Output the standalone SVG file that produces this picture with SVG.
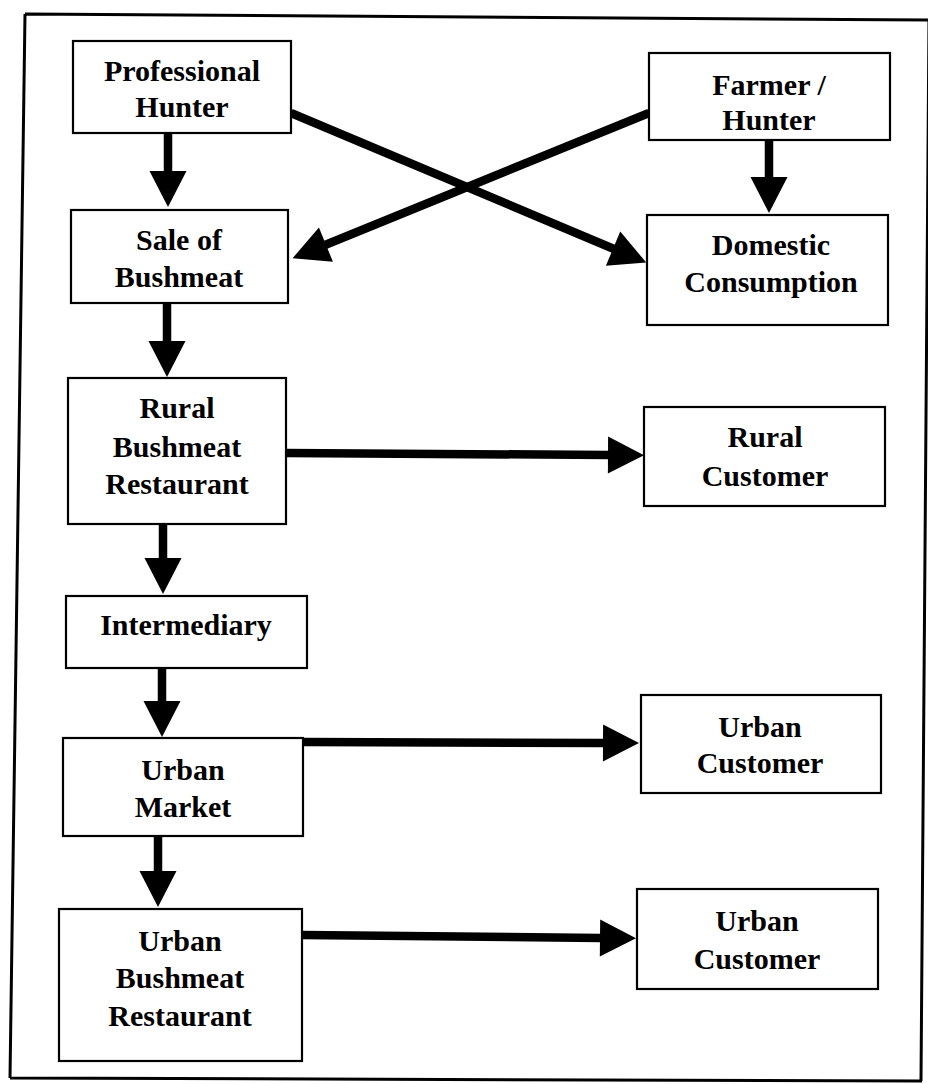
<svg xmlns="http://www.w3.org/2000/svg" width="928" height="1084" viewBox="0 0 928 1084">
  <style>
    .box { fill: #ffffff; stroke: #000000; stroke-width: 2.2; }
    .lbl { font-family: "Liberation Serif", "Times New Roman", serif; font-weight: bold; font-size: 30px; fill: #000000; text-anchor: middle; }
    .conn { stroke: #000000; stroke-width: 8.5; fill: none; marker-end: url(#head); }
    .frame { fill: none; stroke: #000000; stroke-width: 3; }
  </style>
  <defs>
    <marker id="head" markerUnits="userSpaceOnUse" markerWidth="40" markerHeight="40" refX="1" refY="18.5" orient="auto" overflow="visible">
      <path d="M0,0 L36,18.5 L0,37 Z" fill="#000000"/>
    </marker>
  </defs>

  <rect width="928" height="1084" fill="#ffffff"/>

  <!-- outer frame -->
  <path class="frame" d="M25,14 L930,20 M929,20 L921,1081 M922,1081 L10,1078 M10,1078 L25,14"/>

  <!-- connectors -->
  <g id="connectors">
    <line class="conn" x1="168" y1="133" x2="168" y2="172"/>
    <line class="conn" x1="167" y1="303" x2="167" y2="342"/>
    <line class="conn" x1="163" y1="524" x2="163" y2="559"/>
    <line class="conn" x1="162" y1="668" x2="162" y2="702"/>
    <line class="conn" x1="158" y1="836" x2="158" y2="872"/>
    <line class="conn" x1="769" y1="140" x2="769" y2="178"/>
    <line class="conn" x1="286" y1="453" x2="609" y2="455"/>
    <line class="conn" x1="303" y1="742" x2="604" y2="743"/>
    <line class="conn" x1="302" y1="935" x2="601" y2="938"/>
    <line class="conn" x1="291" y1="113" x2="614" y2="249"/>
    <line class="conn" x1="649" y1="113" x2="325" y2="245"/>
  </g>

  <g id="professional-hunter">
    <rect class="box" x="73" y="41" width="218" height="92"/>
    <text class="lbl" x="182" y="81">Professional</text>
    <text class="lbl" x="182" y="117">Hunter</text>
  </g>

  <g id="farmer-hunter">
    <rect class="box" x="649" y="53" width="241" height="87"/>
    <text class="lbl" x="769" y="95">Farmer /</text>
    <text class="lbl" x="769" y="130">Hunter</text>
  </g>

  <g id="sale-of-bushmeat">
    <rect class="box" x="71" y="210" width="217" height="93"/>
    <text class="lbl" x="179" y="250">Sale of</text>
    <text class="lbl" x="179" y="287">Bushmeat</text>
  </g>

  <g id="domestic-consumption">
    <rect class="box" x="647" y="215" width="241" height="110"/>
    <text class="lbl" x="771" y="255">Domestic</text>
    <text class="lbl" x="771" y="292">Consumption</text>
  </g>

  <g id="rural-bushmeat-restaurant">
    <rect class="box" x="68" y="378" width="218" height="146"/>
    <text class="lbl" x="177" y="418">Rural</text>
    <text class="lbl" x="177" y="457">Bushmeat</text>
    <text class="lbl" x="177" y="494">Restaurant</text>
  </g>

  <g id="rural-customer">
    <rect class="box" x="644" y="407" width="241" height="99"/>
    <text class="lbl" x="765" y="447">Rural</text>
    <text class="lbl" x="765" y="486">Customer</text>
  </g>

  <g id="intermediary">
    <rect class="box" x="66" y="596" width="241" height="72"/>
    <text class="lbl" x="186" y="635">Intermediary</text>
  </g>

  <g id="urban-market">
    <rect class="box" x="63" y="738" width="240" height="98"/>
    <text class="lbl" x="183" y="780">Urban</text>
    <text class="lbl" x="183" y="817">Market</text>
  </g>

  <g id="urban-customer-1">
    <rect class="box" x="641" y="695" width="240" height="98"/>
    <text class="lbl" x="760" y="737">Urban</text>
    <text class="lbl" x="760" y="773">Customer</text>
  </g>

  <g id="urban-bushmeat-restaurant">
    <rect class="box" x="59" y="909" width="243" height="152"/>
    <text class="lbl" x="180" y="951">Urban</text>
    <text class="lbl" x="180" y="988">Bushmeat</text>
    <text class="lbl" x="180" y="1026">Restaurant</text>
  </g>

  <g id="urban-customer-2">
    <rect class="box" x="637" y="889" width="241" height="100"/>
    <text class="lbl" x="757" y="931">Urban</text>
    <text class="lbl" x="757" y="969">Customer</text>
  </g>
</svg>
